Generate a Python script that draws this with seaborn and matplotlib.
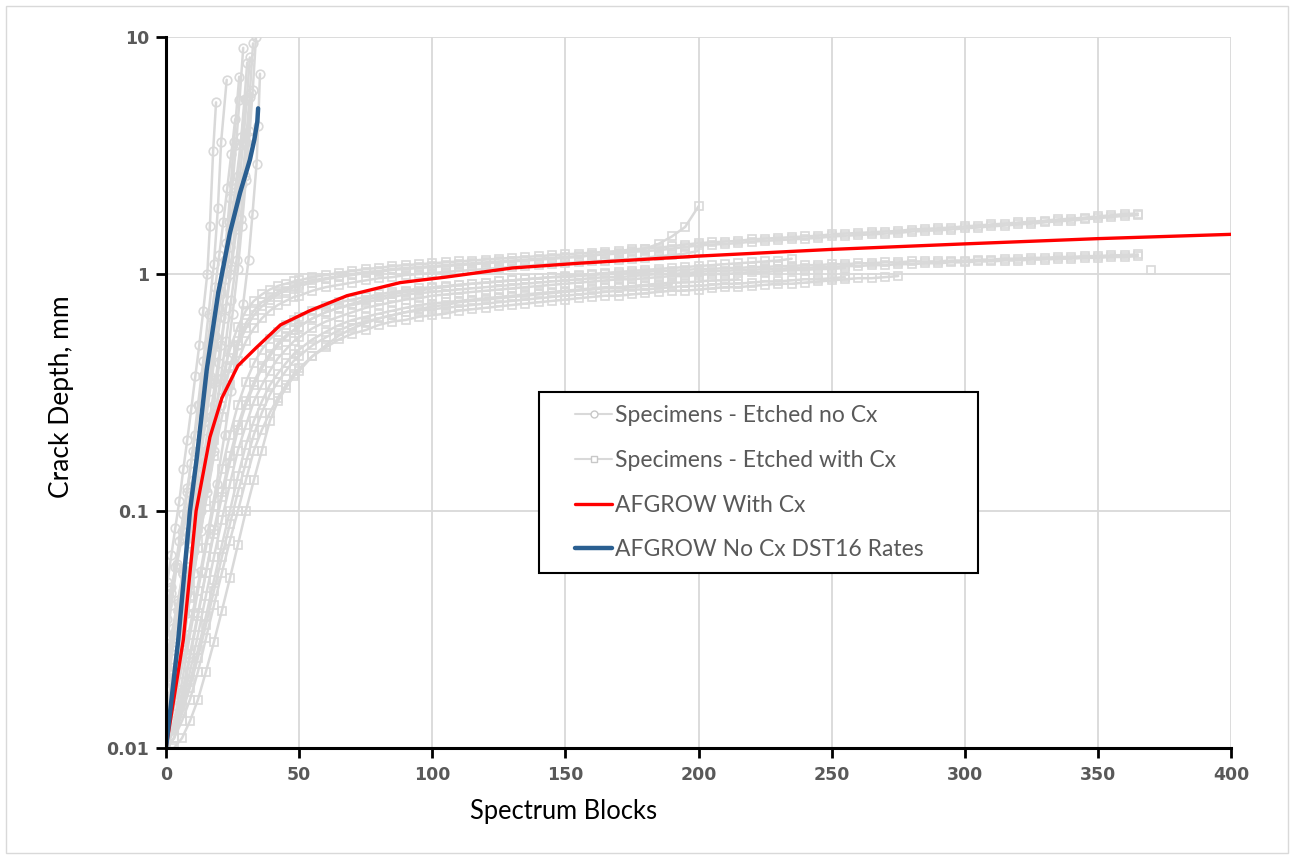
import matplotlib
matplotlib.use("Agg")
import matplotlib.pyplot as plt
import seaborn as sns
import pandas as pd
from matplotlib.lines import Line2D
from matplotlib.patches import Rectangle
from matplotlib.ticker import FixedLocator, NullLocator, FixedFormatter

# ---------------- data ----------------
# Specimens - Etched no Cx (circles)
nocx_1_x = [0.5, 2, 3.5, 5, 6.5, 8, 9.5, 11, 12.5, 14, 15.5, 16.5, 17.7, 18.8]
nocx_1_y = [0.05, 0.065, 0.085, 0.11, 0.15, 0.2, 0.27, 0.37, 0.5, 0.7, 1.0, 1.6, 3.3, 5.3]
nocx_2_x = [0.5, 2, 4, 6, 8, 10, 12, 14, 16, 18, 19.5, 20.7, 22.8]
nocx_2_y = [0.03, 0.04, 0.058, 0.082, 0.12, 0.18, 0.28, 0.43, 0.68, 1.1, 1.9, 3.6, 6.6]
nocx_3_x = [0.5, 2.5, 4.5, 6.5, 8.5, 10.5, 12.5, 14.5, 16.5, 18.5, 20.5, 22.5, 24, 25.5, 27.5]
nocx_3_y = [0.02, 0.027, 0.038, 0.054, 0.077, 0.11, 0.16, 0.24, 0.36, 0.55, 0.85, 1.35, 2.1, 3.6, 6.8]
nocx_4_x = [0.5, 3, 5.5, 8, 10.5, 13, 15.5, 18, 20, 22, 24, 26, 27.5, 29, 30.3, 31.5]
nocx_4_y = [0.015, 0.022, 0.033, 0.05, 0.076, 0.115, 0.18, 0.28, 0.42, 0.65, 1.0, 1.6, 2.4, 3.6, 5.4, 8.2]
nocx_5_x = [0.5, 3, 5.5, 8, 10.5, 13, 15.5, 18, 20.5, 23, 25, 27, 28.5, 30, 31.3, 32.6, 33.8]
nocx_5_y = [0.012, 0.017, 0.025, 0.037, 0.055, 0.082, 0.12, 0.18, 0.28, 0.44, 0.68, 1.05, 1.6, 2.5, 3.8, 6.0, 10.0]
nocx_6_x = [1, 4, 7, 10, 13, 16, 19, 22, 24.5, 27, 29, 31, 32.5, 34, 34.6, 35.3]
nocx_6_y = [0.012, 0.017, 0.025, 0.037, 0.056, 0.085, 0.13, 0.21, 0.32, 0.5, 0.75, 1.15, 1.8, 2.9, 4.2, 7.0]
nocx_7_x = [0.5, 2, 4, 6, 8, 10, 12, 14, 16, 18, 20, 22, 24, 26, 28, 30]
nocx_7_y = [0.04, 0.048, 0.06, 0.077, 0.1, 0.135, 0.18, 0.25, 0.35, 0.5, 0.72, 1.05, 1.55, 2.3, 3.5, 5.5]
nocx_8_x = [0.5, 2.5, 4.5, 6.5, 8.5, 10.5, 12.5, 14.5, 16.5, 18.5, 20.5, 22.5, 24.5, 26.5, 28.5, 30, 31.4, 32.7]
nocx_8_y = [0.025, 0.032, 0.042, 0.055, 0.073, 0.097, 0.13, 0.18, 0.25, 0.35, 0.5, 0.72, 1.05, 1.55, 2.4, 3.6, 5.6, 9.4]
nocx_9_x = [0.5, 2, 3.5, 5, 6.5, 8, 9.5, 11, 12.5, 14, 15.5, 17, 18.5, 20, 21.5, 23, 24.5, 26]
nocx_9_y = [0.035, 0.045, 0.058, 0.075, 0.097, 0.125, 0.16, 0.21, 0.28, 0.37, 0.5, 0.66, 0.88, 1.2, 1.65, 2.3, 3.2, 4.5]
nocx_10_x = [0.5, 2.5, 4.5, 6.5, 8.5, 10.5, 12.5, 14.5, 16.5, 18.5, 20.5, 22, 23.5, 25, 26.3, 27.6, 29]
nocx_10_y = [0.018, 0.026, 0.038, 0.055, 0.08, 0.115, 0.17, 0.25, 0.37, 0.55, 0.82, 1.15, 1.65, 2.4, 3.5, 5.4, 9.0]
nocx_11_x = [0.5, 2.5, 4.5, 6.5, 8.5, 10.5, 12.5, 14.5, 16.5, 18.5, 20.5, 22.5, 24, 25.5, 27, 28.3, 29.5, 30.5]
nocx_11_y = [0.022, 0.03, 0.041, 0.057, 0.079, 0.11, 0.155, 0.22, 0.32, 0.46, 0.66, 0.95, 1.3, 1.8, 2.6, 3.8, 5.5, 7.8]
nocx_12_x = [0.5, 3, 5.5, 8, 10.5, 13, 15.5, 18, 20.5, 22.5, 24.5, 26.5, 28, 29.5, 31, 32]
nocx_12_y = [0.014, 0.02, 0.03, 0.045, 0.068, 0.1, 0.15, 0.23, 0.36, 0.52, 0.78, 1.15, 1.7, 2.6, 4.0, 5.8]

# Specimens - Etched with Cx (squares), read at common block counts
cx_blocks = [0, 3, 6, 9, 12, 15, 18, 21, 24, 27, 30, 33, 36, 39, 42, 45, 48,
             50, 55, 60, 65, 70, 75, 80, 85, 90, 95, 100,
             105, 110, 115, 120, 125, 130, 135, 140, 145, 150,
             155, 160, 165, 170, 175, 180, 185, 190, 195, 200,
             205, 210, 215, 220, 225, 230, 235, 240, 245, 250,
             255, 260, 265, 270, 275, 280, 285, 290, 295, 300,
             305, 310, 315, 320, 325, 330, 335, 340, 345, 350,
             355, 360, 365]
cx_a = [0.011, 0.018, 0.032, 0.058, 0.10, 0.16, 0.25, 0.36, 0.48, 0.60, 0.70, 0.77, 0.82, 0.86, 0.89, 0.91, 0.93,
        0.94, 0.97, 0.99, 1.01, 1.03, 1.05, 1.06, 1.08, 1.09, 1.10, 1.11,
        1.12, 1.13, 1.14, 1.15, 1.16, 1.17, 1.18, 1.19, 1.20, 1.21,
        1.22, 1.23, 1.24, 1.25, 1.27, 1.28, 1.29, 1.31, 1.33, 1.35,
        1.36, 1.37, 1.38, 1.40, 1.41, 1.42, 1.43, 1.44, 1.45, 1.47,
        1.48, 1.49, 1.50, 1.51, 1.52, 1.54, 1.55, 1.56, 1.57, 1.59,
        1.60, 1.62, 1.63, 1.65, 1.66, 1.68, 1.70, 1.71, 1.73, 1.75,
        1.77, 1.79, 1.80]
cx_k = [0.010, 0.015, 0.025, 0.044, 0.075, 0.125, 0.20, 0.30, 0.41, 0.52, 0.62, 0.70, 0.76, 0.80, 0.84, 0.87, 0.89,
        0.91, 0.94, 0.96, 0.98, 1.00, 1.02, 1.03, 1.05, 1.06, 1.07, 1.08,
        1.09, 1.10, 1.11, 1.12, 1.13, 1.14, 1.15, 1.16, 1.17, 1.18,
        1.19, 1.20, 1.21, 1.22, 1.24, 1.25, 1.26, 1.28, 1.30, 1.32,
        1.33, 1.34, 1.35, 1.37, 1.38, 1.39, 1.40, 1.41, 1.42, 1.44,
        1.45, 1.46, 1.47, 1.48, 1.49, 1.51, 1.52, 1.53, 1.54, 1.56,
        1.57, 1.59, 1.60, 1.62, 1.63, 1.65, 1.67, 1.68, 1.70, 1.72,
        1.74, 1.76, 1.77]
cx_b = [0.010, 0.016, 0.028, 0.050, 0.085, 0.14, 0.21, 0.30, 0.40, 0.50, 0.59, 0.67, 0.73, 0.78, 0.82, 0.85, 0.88,
        0.89, 0.92, 0.95, 0.97, 0.99, 1.01, 1.02, 1.04, 1.05, 1.06, 1.07,
        1.08, 1.09, 1.10, 1.11, 1.12, 1.13, 1.14, 1.15, 1.16, 1.17,
        1.18, 1.20, 1.21, 1.23, 1.25, 1.28, 1.34, 1.44, 1.58, 1.93]
cx_g = [0.011, 0.016, 0.026, 0.043, 0.070, 0.11, 0.17, 0.25, 0.34, 0.43, 0.52, 0.59, 0.65, 0.70, 0.74, 0.77, 0.80,
        0.81, 0.85, 0.88, 0.90, 0.92, 0.94, 0.96, 0.97, 0.99, 1.00, 1.01,
        1.02, 1.03, 1.04, 1.05, 1.06, 1.07, 1.08, 1.09, 1.10, 1.11,
        1.12, 1.13, 1.14, 1.15, 1.16, 1.17, 1.19, 1.20, 1.22, 1.25]
cx_c = [0.010, 0.013, 0.019, 0.030, 0.046, 0.070, 0.105, 0.15, 0.21, 0.28, 0.35, 0.42, 0.48, 0.53, 0.57, 0.61, 0.64,
        0.66, 0.70, 0.73, 0.76, 0.78, 0.80, 0.82, 0.84, 0.85, 0.87, 0.88,
        0.89, 0.90, 0.91, 0.92, 0.93, 0.94, 0.95, 0.96, 0.97, 0.97,
        0.98, 0.99, 1.00, 1.00, 1.01, 1.02, 1.03, 1.03, 1.04, 1.05,
        1.05, 1.06, 1.06, 1.07, 1.07, 1.08, 1.08, 1.09, 1.09, 1.10,
        1.10, 1.11, 1.11, 1.12, 1.12, 1.13, 1.13, 1.13, 1.14, 1.14,
        1.15, 1.15, 1.16, 1.16, 1.17, 1.17, 1.18, 1.18, 1.19, 1.19,
        1.20, 1.20, 1.21]
cx_l = [0.010, 0.012, 0.016, 0.024, 0.036, 0.055, 0.083, 0.12, 0.17, 0.23, 0.29, 0.35, 0.41, 0.46, 0.51, 0.55, 0.58,
        0.60, 0.65, 0.69, 0.72, 0.74, 0.76, 0.78, 0.80, 0.82, 0.83, 0.84,
        0.85, 0.86, 0.87, 0.88, 0.89, 0.90, 0.91, 0.92, 0.93, 0.94,
        0.95, 0.96, 0.97, 0.97, 0.98, 0.99, 1.00, 1.00, 1.01, 1.02,
        1.03, 1.03, 1.04, 1.04, 1.05, 1.05, 1.06, 1.06, 1.07, 1.07,
        1.08, 1.08, 1.09, 1.09, 1.10, 1.10, 1.11, 1.11, 1.12, 1.12,
        1.13, 1.13, 1.14, 1.14, 1.15, 1.15, 1.16, 1.16, 1.17, 1.17,
        1.18, 1.18, 1.19]
cx_d = [0.010, 0.012, 0.017, 0.025, 0.037, 0.055, 0.080, 0.115, 0.16, 0.22, 0.28, 0.34, 0.40, 0.45, 0.50, 0.54, 0.58,
        0.60, 0.65, 0.69, 0.72, 0.75, 0.78, 0.80, 0.82, 0.84, 0.85, 0.87,
        0.88, 0.90, 0.91, 0.92, 0.93, 0.94, 0.95, 0.96, 0.97, 0.98,
        0.99, 1.00, 1.01, 1.02, 1.03, 1.04, 1.05, 1.06, 1.07, 1.08,
        1.09, 1.10, 1.11, 1.12, 1.13, 1.14, 1.16]
cx_h = [0.010, 0.011, 0.015, 0.021, 0.030, 0.044, 0.064, 0.092, 0.13, 0.18, 0.23, 0.29, 0.34, 0.39, 0.44, 0.48, 0.52,
        0.54, 0.59, 0.63, 0.66, 0.69, 0.72, 0.74, 0.76, 0.78, 0.79, 0.81,
        0.82, 0.83, 0.84, 0.85, 0.86, 0.87, 0.88, 0.89, 0.90, 0.91,
        0.92, 0.93, 0.94, 0.95, 0.95, 0.96, 0.97, 0.98, 0.98, 0.99,
        1.00, 1.00, 1.01, 1.02, 1.02, 1.03, 1.04, 1.04, 1.05, 1.05, 1.06]
cx_i = [0.011, 0.012, 0.014, 0.019, 0.026, 0.036, 0.051, 0.072, 0.10, 0.14, 0.19, 0.24, 0.29, 0.34, 0.38, 0.42, 0.46,
        0.48, 0.53, 0.57, 0.61, 0.64, 0.66, 0.68, 0.70, 0.72, 0.74, 0.75,
        0.76, 0.77, 0.78, 0.79, 0.80, 0.81, 0.82, 0.83, 0.84, 0.85,
        0.86, 0.87, 0.88, 0.88, 0.89, 0.90, 0.91, 0.92, 0.92, 0.93,
        0.94, 0.94, 0.95]
cx_m = [0.010, 0.011, 0.014, 0.018, 0.024, 0.033, 0.046, 0.064, 0.088, 0.12, 0.16, 0.21, 0.26, 0.31, 0.35, 0.39, 0.43,
        0.45, 0.50, 0.54, 0.58, 0.61, 0.63, 0.65, 0.67, 0.69, 0.70, 0.71,
        0.72, 0.73, 0.74, 0.75, 0.76, 0.77, 0.78, 0.79, 0.80, 0.81,
        0.82, 0.83, 0.84, 0.85, 0.86, 0.86, 0.87, 0.88, 0.89, 0.89,
        0.90, 0.91, 0.91, 0.92, 0.93, 0.93, 0.94, 0.95, 0.95, 0.96, 0.97]
cx_e = [0.010, 0.011, 0.013, 0.016, 0.021, 0.029, 0.040, 0.055, 0.075, 0.10, 0.135, 0.18, 0.22, 0.26, 0.30, 0.34, 0.38,
        0.40, 0.45, 0.49, 0.53, 0.56, 0.58, 0.61, 0.63, 0.64, 0.66, 0.67,
        0.68, 0.70, 0.71, 0.72, 0.73, 0.74, 0.75, 0.76, 0.77, 0.78,
        0.79, 0.80, 0.81, 0.81, 0.82, 0.83, 0.84, 0.85, 0.85, 0.86,
        0.87, 0.88, 0.88, 0.89, 0.90, 0.91, 0.91, 0.92, 0.93, 0.94,
        0.95, 0.96, 0.96, 0.97, 0.98]
cx_j = [0.010, 0.010, 0.011, 0.013, 0.016, 0.021, 0.028, 0.038, 0.052, 0.072, 0.10, 0.135, 0.18, 0.24, 0.29, 0.33, 0.37,
        0.39, 0.45, 0.50, 0.55, 0.59, 0.62, 0.65, 0.67, 0.69, 0.71, 0.73,
        0.74, 0.76, 0.77, 0.78, 0.79, 0.80, 0.81, 0.82, 0.83, 0.84,
        0.85, 0.86, 0.87, 0.87, 0.88, 0.89, 0.89, 0.90]
cx_single_x = [370]
cx_single_y = [1.04]

# AFGROW predictions
afg_cx_blocks = [0, 6.5, 11.3, 14, 16.5, 21, 27, 34, 43, 54, 68, 88, 105, 130, 155, 200, 250, 300, 350, 400]
afg_cx_depth = [0.01, 0.0286, 0.1, 0.145, 0.205, 0.30, 0.41, 0.49, 0.61, 0.70, 0.81, 0.92, 0.97, 1.06, 1.11,
                1.19, 1.27, 1.34, 1.41, 1.47]
afg_nocx_blocks = [0, 4.6, 9, 11.6, 15.3, 19.6, 21, 24, 27.8, 31.5, 33.2, 34.3, 34.6]
afg_nocx_depth = [0.01, 0.0286, 0.1, 0.169, 0.394, 0.83, 1.0, 1.49, 2.2, 3.03, 3.7, 4.4, 5.0]

x_ticks = [0, 50, 100, 150, 200, 250, 300, 350, 400]
y_ticks = [0.01, 0.1, 1, 10]
y_tick_labels = ["0.01", "0.1", "1", "10"]
legend_labels = ["Specimens - Etched no Cx", "Specimens - Etched with Cx",
                 "AFGROW With Cx", "AFGROW No Cx DST16 Rates"]

# ---------------- build table ----------------
nocx_sets = [(nocx_1_x, nocx_1_y), (nocx_2_x, nocx_2_y), (nocx_3_x, nocx_3_y), (nocx_4_x, nocx_4_y),
             (nocx_5_x, nocx_5_y), (nocx_6_x, nocx_6_y), (nocx_7_x, nocx_7_y), (nocx_8_x, nocx_8_y),
             (nocx_9_x, nocx_9_y), (nocx_10_x, nocx_10_y), (nocx_11_x, nocx_11_y), (nocx_12_x, nocx_12_y)]
cx_sets = [(cx_blocks, cx_j), (cx_blocks, cx_e), (cx_blocks, cx_m), (cx_blocks, cx_i), (cx_blocks, cx_h),
           (cx_blocks, cx_d), (cx_blocks, cx_l), (cx_blocks, cx_c), (cx_blocks, cx_g), (cx_blocks, cx_b),
           (cx_blocks, cx_k), (cx_blocks, cx_a), (cx_single_x, cx_single_y)]
rows = []
for k, (xs, ys) in enumerate(nocx_sets):
    for x, y in zip(xs, ys):
        rows.append((x, y, f"n{k}", "no"))
for k, (xs, ys) in enumerate(cx_sets):
    for x, y in zip(xs, ys):
        rows.append((x, y, f"c{k}", "with"))
spec = pd.DataFrame(rows, columns=["blocks", "depth", "specimen", "group"])

# ---------------- plot ----------------
sns.set_theme(style="white")
plt.rcParams["font.family"] = ["Lato", "DejaVu Sans"]

GRAY = "#d9d9d9"
RED = "#ff0000"
BLUE = "#2a5f91"
W, H = 1294, 858
fig = plt.figure(figsize=(W / 100, H / 100), dpi=100)
ax = fig.add_axes([166 / W, 1 - 748 / H, 1065 / W, 711 / H])
ax.set_yscale("log")

sns.lineplot(data=spec, x="blocks", y="depth", units="specimen", estimator=None,
             style="group", markers={"no": "o", "with": "s"}, dashes=False,
             color=GRAY, sort=False, legend=False, lw=1.8, ms=6.2,
             mfc="none", mec=GRAY, mew=1.2, ax=ax, zorder=2)

sns.lineplot(x=afg_cx_blocks, y=afg_cx_depth, color=RED, lw=2.4, sort=False,
             estimator=None, ax=ax, zorder=4)
sns.lineplot(x=afg_nocx_blocks, y=afg_nocx_depth, color=BLUE, lw=3.2, sort=False,
             estimator=None, ax=ax, zorder=5)

ax.set_xlim(0, 400)
ax.set_ylim(0.01, 10)
ax.xaxis.set_major_locator(FixedLocator(x_ticks))
ax.yaxis.set_major_locator(FixedLocator(y_ticks))
ax.yaxis.set_major_formatter(FixedFormatter(y_tick_labels))
ax.yaxis.set_minor_locator(NullLocator())
ax.xaxis.set_minor_locator(NullLocator())

ax.grid(True, which="major", color=GRAY, lw=1.3)
ax.set_axisbelow(True)
for s in ["top", "right"]:
    ax.spines[s].set_visible(False)
for s in ["left", "bottom"]:
    ax.spines[s].set_color("black")
    ax.spines[s].set_linewidth(2.2)
    ax.spines[s].set_zorder(6)
ax.tick_params(axis="both", which="major", direction="out", length=7, width=2,
               color="black", labelcolor="#595959", labelsize=12.5,
               bottom=True, left=True)
ax.tick_params(axis="y", pad=5)
ax.tick_params(axis="x", pad=6)
for lbl in ax.get_xticklabels() + ax.get_yticklabels():
    lbl.set_fontfamily("DejaVu Sans")
    lbl.set_fontweight("bold")

ax.set_xlabel("Spectrum Blocks", fontsize=18.4, color="black")
ax.xaxis.set_label_coords((564 - 166) / 1065, (748 - 812) / 711)
ax.xaxis.label.set_va("center")
ax.set_ylabel("Crack Depth, mm", fontsize=19, color="black")
ax.yaxis.set_label_coords((62 - 166) / 1065, (748 - 397) / 711)
ax.yaxis.label.set_va("center")

# legend: white box drawn separately, entries placed inside it
box = Rectangle((539 / W, 1 - 573 / H), (978 - 539) / W, (573 - 392) / H,
                transform=fig.transFigure, facecolor="white", edgecolor="black",
                lw=1.5, zorder=9)
ax.add_patch(box)
box.set_clip_on(False)

handles = [
    Line2D([], [], color=GRAY, lw=1.5, marker="o", ms=5, mfc="white", mec="#c8c8c8", mew=1),
    Line2D([], [], color=GRAY, lw=1.5, marker="s", ms=5, mfc="white", mec="#c8c8c8", mew=1),
    Line2D([], [], color=RED, lw=2.4),
    Line2D([], [], color=BLUE, lw=3.2),
]
LEG_FS = 16.5
leg = ax.legend(handles, legend_labels, loc="upper left",
                bbox_to_anchor=((575 - 166) / 1065, (748 - 405) / 711),
                borderaxespad=0, borderpad=0, frameon=False, fontsize=LEG_FS,
                handlelength=1.62, handletextpad=0.13, labelspacing=1.04)
leg.set_zorder(10)
for t in leg.get_texts():
    t.set_color("#595959")

fig.patches.append(Rectangle((6 / W, 5 / H), 1282 / W, 847 / H,
                             transform=fig.transFigure, fill=False,
                             edgecolor=GRAY, lw=1.0))

fig.savefig("out.png", dpi=100)
